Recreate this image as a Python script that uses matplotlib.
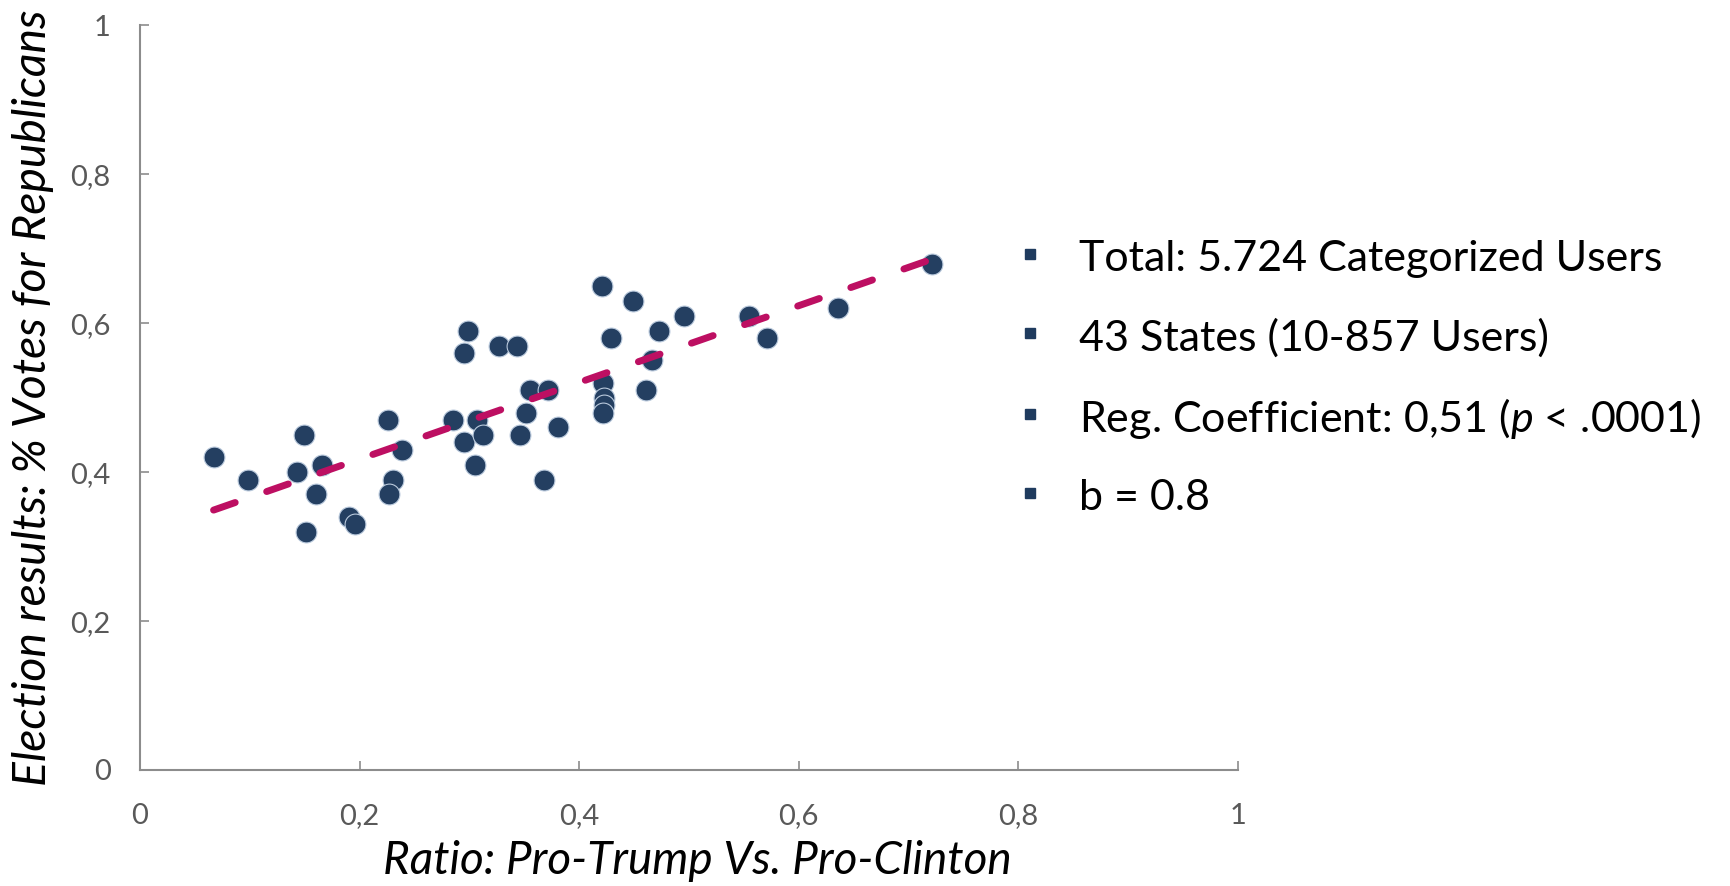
import numpy as np
import matplotlib
matplotlib.use("Agg")
import matplotlib.pyplot as plt
from matplotlib.lines import Line2D

# Ratio of pro-Trump to pro-Clinton users per state, and Republican vote share
ratio = [0.067, 0.098, 0.143, 0.149, 0.166, 0.160, 0.151, 0.190, 0.196, 0.226,
         0.239, 0.230, 0.227, 0.299, 0.295, 0.327, 0.343, 0.285, 0.307, 0.295,
         0.312, 0.305, 0.355, 0.372, 0.352, 0.346, 0.381, 0.368, 0.421, 0.449,
         0.495, 0.473, 0.429, 0.555, 0.571, 0.636, 0.721, 0.466, 0.422, 0.423,
         0.423, 0.422, 0.461]
rep_share = [0.42, 0.39, 0.40, 0.45, 0.41, 0.37, 0.32, 0.34, 0.33, 0.47,
             0.43, 0.39, 0.37, 0.59, 0.56, 0.57, 0.57, 0.47, 0.47, 0.44,
             0.45, 0.41, 0.51, 0.51, 0.48, 0.45, 0.46, 0.39, 0.65, 0.63,
             0.61, 0.59, 0.58, 0.61, 0.58, 0.62, 0.68, 0.55, 0.52, 0.50,
             0.49, 0.48, 0.51]

tick_values = [0, 0.2, 0.4, 0.6, 0.8, 1]
tick_labels = ["0", "0,2", "0,4", "0,6", "0,8", "1"]

notes = [
    r"Total: 5.724 Categorized Users",
    r"43 States (10-857 Users)",
    r"Reg. Coefficient: 0,51 ($\it{p}$ < .0001)",
    r"b = 0.8",
]

FONT = ["Lato", "DejaVu Sans"]
plt.rcParams["font.family"] = FONT
plt.rcParams["mathtext.fontset"] = "custom"
plt.rcParams["mathtext.it"] = "Lato:italic"
plt.rcParams["mathtext.rm"] = "Lato"

NAVY = "#243f61"
MAGENTA = "#bd0f62"
AXIS_GREY = "#8c8c8c"
LABEL_GREY = "#595959"

fig = plt.figure(figsize=(17.30, 8.86), dpi=100)
ax = fig.add_axes([140 / 1730, 1 - 770 / 886, (1238 - 140) / 1730, (770 - 25.4) / 886])

x = np.array(ratio)
y = np.array(rep_share)

# linear trend line across the observed range
slope, intercept = np.polyfit(x, y, 1)
xs = np.array([x.min(), x.max()])
ax.plot(xs, slope * xs + intercept, color=MAGENTA, lw=5,
        dashes=(3.3, 4.8), dash_capstyle="round", zorder=3)

ax.scatter(x, y, s=225, color=NAVY, edgecolor="#b9c9dc", linewidth=0.8, zorder=2)

ax.set_xlim(0, 1)
ax.set_ylim(0, 1)
ax.set_xticks(tick_values)
ax.set_xticklabels(tick_labels)
ax.set_yticks(tick_values)
ax.set_yticklabels(tick_labels)

for side in ("top", "right"):
    ax.spines[side].set_visible(False)
for side in ("left", "bottom"):
    ax.spines[side].set_color(AXIS_GREY)
    ax.spines[side].set_linewidth(1.5)

ax.tick_params(axis="both", direction="in", length=6.5, width=1.2,
               color=AXIS_GREY, labelcolor=LABEL_GREY, labelsize=21)
ax.tick_params(axis="x", pad=24)
ax.tick_params(axis="y", pad=21)

fig.text(697 / 1730, 1 - 861 / 886, "Ratio: Pro-Trump Vs. Pro-Clinton",
         fontsize=33, style="italic", ha="center", va="center")
fig.text(33 / 1730, 1 - 398 / 886, "Election results: % Votes for Republicans",
         rotation=90, fontsize=33.3, style="italic", ha="center", va="center")

row_y = [259, 338, 419, 498]
for text, ry in zip(notes, row_y):
    yf = 1 - ry / 886
    fig.add_artist(Line2D([1030 / 1730], [yf + 5 / 886], marker="s", markersize=7.5,
                          color="#1f3b5e", transform=fig.transFigure))
    fig.text(1079 / 1730, yf, text, fontsize=31, ha="left", va="center", color="black")

fig.savefig("out.png", dpi=100)
